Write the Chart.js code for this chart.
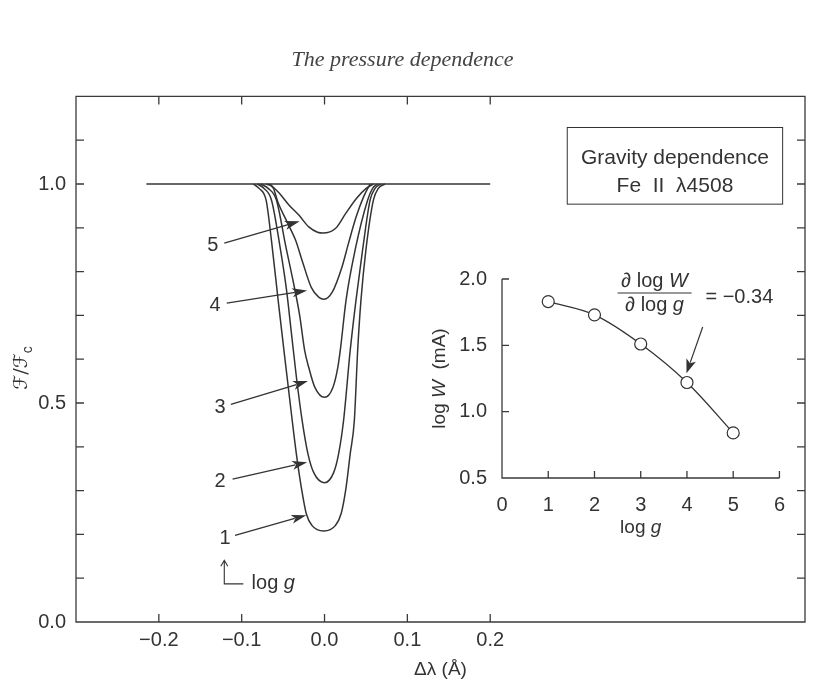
<!DOCTYPE html>
<html>
<head>
<meta charset="utf-8">
<script src="https://cdn.jsdelivr.net/npm/chart.js@4.4.0/dist/chart.umd.min.js"></script>
<style>
  html, body { margin: 0; padding: 0; background: #fff; }
  #wrap { position: relative; width: 816px; height: 682px; }
  #main { position: absolute; left: 0; top: 0; }
  #inset { position: absolute; left: 420px; top: 250px; }
</style>
</head>
<body>
<div id="wrap">
  <canvas id="main" width="816" height="682"></canvas>
  <canvas id="inset" width="380" height="300"></canvas>
</div>
<script>
// ---- data ----
const continuumX = [-0.215, 0.2];
const continuumY = [1.0, 1.0];

// line profiles for log g = 1 ... 5
const g1X = [-0.086, -0.079, -0.0705, -0.064, -0.056, -0.049, -0.039, -0.034, -0.028, -0.022, -0.015, -0.001, 0.013, 0.020, 0.026, 0.031, 0.036, 0.040, 0.044, 0.050, 0.059, 0.065, 0.073];
const g1Y = [1.0, 0.99, 0.963, 0.87, 0.735, 0.62, 0.46, 0.384, 0.307, 0.247, 0.22, 0.208, 0.22, 0.247, 0.307, 0.384, 0.46, 0.62, 0.735, 0.85, 0.963, 0.99, 1.0];

const g2X = [-0.081, -0.073, -0.064, -0.054, -0.046, -0.040, -0.034, -0.027, -0.020, -0.013, 0.0, 0.011, 0.017, 0.023, 0.031, 0.038, 0.046, 0.055, 0.061, 0.068];
const g2Y = [1.0, 0.99, 0.963, 0.86, 0.76, 0.66, 0.56, 0.46, 0.384, 0.341, 0.318, 0.341, 0.384, 0.46, 0.62, 0.735, 0.85, 0.963, 0.99, 1.0];

const g3X = [-0.077, -0.068, -0.058, -0.047, -0.037, -0.030, -0.024, -0.019, -0.0115, 0.0, 0.010, 0.016, 0.019, 0.026, 0.037, 0.052, 0.058, 0.064];
const g3Y = [1.0, 0.99, 0.963, 0.86, 0.77, 0.70, 0.62, 0.581, 0.535, 0.513, 0.535, 0.581, 0.62, 0.735, 0.85, 0.963, 0.99, 1.0];

const g4X = [-0.070, -0.062, -0.056, -0.0446, -0.035, -0.026, -0.016, -0.0067, -0.0006, 0.0093, 0.021, 0.029, 0.038, 0.047, 0.055];
const g4Y = [1.0, 0.991, 0.957, 0.911, 0.872, 0.819, 0.764, 0.741, 0.737, 0.753, 0.810, 0.865, 0.924, 0.970, 1.0];

const g5X = [-0.066, -0.0545, -0.043, -0.031, -0.019, -0.0085, -0.002, 0.0135, 0.026, 0.039, 0.051, 0.059];
const g5Y = [1.0, 0.979, 0.952, 0.929, 0.902, 0.890, 0.888, 0.899, 0.934, 0.968, 0.991, 1.0];

const curveLabels = ['1', '2', '3', '4', '5'];

const xTickValues = [-0.2, -0.1, 0.0, 0.1, 0.2];
const yTickLabels = [0.0, 0.5, 1.0];
const yTickMarks = [0.1, 0.2, 0.3, 0.4, 0.5, 0.6, 0.7, 0.8, 0.9, 1.0, 1.1];

// inset: equivalent width vs gravity
const insetLogg = [1, 2, 3, 4, 5];
const insetLogW = [1.83, 1.73, 1.51, 1.22, 0.84];
const insetXTicks = [0, 1, 2, 3, 4, 5, 6];
const insetYTicks = [0.5, 1.0, 1.5, 2.0];

// ---- helpers ----
const INK = '#333';
const SANS = '"Liberation Sans", Arial, sans-serif';
const FS = 20;

const pts = (xs, ys) => xs.map((x, i) => ({ x, y: ys[i] }));

function richText(ctx, parts, x, y, size, align) {
  const fonts = parts.map(p => (p[1] ? 'italic ' : '') + size + 'px ' + SANS);
  let w = 0;
  const ws = parts.map((p, i) => { ctx.font = fonts[i]; const m = ctx.measureText(p[0]).width; w += m; return m; });
  let cx = align === 'center' ? x - w / 2 : x;
  ctx.textAlign = 'left';
  ctx.textBaseline = 'middle';
  parts.forEach((p, i) => { ctx.font = fonts[i]; ctx.fillText(p[0], cx, y); cx += ws[i]; });
}

function arrow(ctx, x1, y1, x2, y2, head, half) {
  const a = Math.atan2(y2 - y1, x2 - x1);
  ctx.beginPath();
  ctx.moveTo(x1, y1);
  ctx.lineTo(x2 - head * 0.8 * Math.cos(a), y2 - head * 0.8 * Math.sin(a));
  ctx.stroke();
  ctx.beginPath();
  ctx.moveTo(x2, y2);
  ctx.lineTo(x2 - head * Math.cos(a) + half * Math.sin(a), y2 - head * Math.sin(a) - half * Math.cos(a));
  ctx.lineTo(x2 - head * 0.75 * Math.cos(a), y2 - head * 0.75 * Math.sin(a));
  ctx.lineTo(x2 - head * Math.cos(a) - half * Math.sin(a), y2 - head * Math.sin(a) + half * Math.cos(a));
  ctx.closePath();
  ctx.fill();
}

// frame + inward tick marks
const frameTicks = {
  id: 'frameTicks',
  afterDraw(chart, args, o) {
    const { ctx, chartArea: a, scales: { x, y } } = chart;
    ctx.save();
    ctx.strokeStyle = '#3a3a3a';
    ctx.lineWidth = 1.3;
    ctx.beginPath();
    if (o.box) {
      ctx.rect(a.left, a.top, a.right - a.left, a.bottom - a.top);
    } else {
      ctx.moveTo(a.left, a.top);
      ctx.lineTo(a.left, a.bottom);
      ctx.lineTo(a.right, a.bottom);
    }
    o.xMarks.forEach(v => {
      const p = x.getPixelForValue(v);
      ctx.moveTo(p, a.bottom); ctx.lineTo(p, a.bottom - o.len);
      if (o.box) { ctx.moveTo(p, a.top); ctx.lineTo(p, a.top + o.len); }
    });
    o.yMarks.forEach(v => {
      const p = y.getPixelForValue(v);
      ctx.moveTo(a.left, p); ctx.lineTo(a.left + o.len, p);
      if (o.box) { ctx.moveTo(a.right, p); ctx.lineTo(a.right - o.len, p); }
    });
    ctx.stroke();
    ctx.restore();
  }
};

// labels, arrows and the boxed caption of the main panel
const mainNotes = {
  id: 'mainNotes',
  afterDraw(chart) {
    const { ctx, scales: { x, y } } = chart;
    const X = v => x.getPixelForValue(v), Y = v => y.getPixelForValue(v);
    ctx.save();
    ctx.fillStyle = INK;
    ctx.strokeStyle = INK;
    ctx.lineWidth = 1.3;

    const labelAt = [[-0.120, 0.19], [-0.126, 0.32], [-0.126, 0.49], [-0.132, 0.723], [-0.135, 0.86]];
    const arrows = [
      [-0.108, 0.198, -0.022, 0.244],
      [-0.111, 0.326, -0.021, 0.365],
      [-0.113, 0.497, -0.020, 0.55],
      [-0.118, 0.728, -0.021, 0.757],
      [-0.121, 0.865, -0.030, 0.915]
    ];
    curveLabels.forEach((t, i) => {
      ctx.font = FS + 'px ' + SANS;
      ctx.textAlign = 'center';
      ctx.textBaseline = 'middle';
      ctx.fillText(t, X(labelAt[i][0]), Y(labelAt[i][1]));
      const r = arrows[i];
      arrow(ctx, X(r[0]), Y(r[1]), X(r[2]), Y(r[3]), 15, 4.5);
    });

    // "↑ log g" key
    const ax = X(-0.121), top = Y(0.141), corner = Y(0.087);
    ctx.lineWidth = 1.1;
    ctx.beginPath();
    ctx.moveTo(ax, top); ctx.lineTo(ax, corner); ctx.lineTo(X(-0.098), corner);
    ctx.moveTo(ax - 3.5, top + 6); ctx.lineTo(ax, top); ctx.lineTo(ax + 3.5, top + 6);
    ctx.stroke();
    richText(ctx, [['log ', false], ['g', true]], X(-0.088), corner, FS, 'left');

    // caption box
    ctx.lineWidth = 1;
    ctx.strokeRect(X(0.293), Y(1.129), X(0.553) - X(0.293), Y(0.954) - Y(1.129));
    ctx.font = '21px ' + SANS;
    ctx.textAlign = 'center';
    ctx.textBaseline = 'middle';
    ctx.fillText('Gravity dependence', X(0.423), Y(1.06));
    ctx.fillText('Fe  II  \u03bb4508', X(0.423), Y(0.995));

    // y axis title  F/Fc
    ctx.translate(22, 368);
    ctx.rotate(-Math.PI / 2);
    const big = '19px "DejaVu Serif", "DejaVu Sans", serif';
    const small = '14px ' + SANS;
    const main = '\u2131/\u2131';
    ctx.font = big;
    const w1 = ctx.measureText(main).width;
    ctx.font = small;
    const w2 = ctx.measureText('c').width;
    ctx.textAlign = 'left';
    ctx.textBaseline = 'middle';
    ctx.font = big;
    ctx.fillText(main, -(w1 + w2) / 2, 0);
    ctx.font = small;
    ctx.fillText('c', -(w1 + w2) / 2 + w1, 6);
    ctx.restore();
  }
};

// fraction, arrow and axis titles of the inset
const insetNotes = {
  id: 'insetNotes',
  afterDraw(chart) {
    const { ctx, chartArea: a, scales: { x, y } } = chart;
    const X = v => x.getPixelForValue(v), Y = v => y.getPixelForValue(v);
    ctx.save();
    ctx.fillStyle = INK;
    ctx.strokeStyle = INK;
    ctx.lineWidth = 1.1;
    richText(ctx, [['\u2202 log ', false], ['W', true]], X(3.30), Y(1.985), FS, 'center');
    ctx.beginPath();
    ctx.moveTo(X(2.50), Y(1.894)); ctx.lineTo(X(4.10), Y(1.894));
    ctx.stroke();
    richText(ctx, [['\u2202 log ', false], ['g', true]], X(3.30), Y(1.80), FS, 'center');
    ctx.font = FS + 'px ' + SANS;
    ctx.textAlign = 'left';
    ctx.textBaseline = 'middle';
    ctx.fillText('= \u22120.34', X(4.40), Y(1.864));
    ctx.lineWidth = 1.2;
    arrow(ctx, X(4.34), Y(1.638), X(3.99), Y(1.29), 14, 5);

    richText(ctx, [['log ', false], ['g', true]], (a.left + a.right) / 2, 278, 19, 'center');
    ctx.translate(20, (a.top + a.bottom) / 2);
    ctx.rotate(-Math.PI / 2);
    richText(ctx, [['log ', false], ['W', true], ['  (mA)', false]], 0, 0, 19, 'center');
    ctx.restore();
  }
};

const tickFont = { family: SANS, size: FS };
const fmt = v => (v < 0 ? '\u2212' : '') + Math.abs(v).toFixed(1);
const lineStyle = { borderColor: INK, borderWidth: 1.5, pointRadius: 0, cubicInterpolationMode: 'monotone', fill: false };

new Chart(document.getElementById('main'), {
  type: 'line',
  data: {
    datasets: [
      { label: 'continuum', data: pts(continuumX, continuumY), ...lineStyle },
      { label: 'log g = 1', data: pts(g1X, g1Y), ...lineStyle },
      { label: 'log g = 2', data: pts(g2X, g2Y), ...lineStyle },
      { label: 'log g = 3', data: pts(g3X, g3Y), ...lineStyle },
      { label: 'log g = 4', data: pts(g4X, g4Y), ...lineStyle },
      { label: 'log g = 5', data: pts(g5X, g5Y), ...lineStyle }
    ]
  },
  options: {
    responsive: false,
    animation: false,
    layout: { padding: { top: 0, right: 11, left: 0, bottom: 0 } },
    plugins: {
      legend: { display: false },
      tooltip: { enabled: false },
      title: {
        display: true,
        text: 'The pressure dependence',
        color: '#444',
        font: { family: '"Liberation Serif", "Times New Roman", serif', size: 22, style: 'italic', weight: 'normal', lineHeight: 1.2 },
        padding: { top: 47, bottom: 23 }
      },
      frameTicks: { box: true, len: 8, xMarks: xTickValues, yMarks: yTickMarks }
    },
    scales: {
      x: {
        type: 'linear',
        min: -0.3,
        max: 0.58,
        afterBuildTicks: s => { s.ticks = xTickValues.map(v => ({ value: v })); },
        afterFit: s => { s.height = 60; },
        grid: { display: false, drawTicks: false },
        border: { display: false },
        ticks: { color: INK, font: tickFont, padding: 6, maxRotation: 0, callback: fmt },
        title: { display: true, text: '\u0394\u03bb (\u00c5)', color: INK, font: { family: SANS, size: 19 }, padding: { top: 0, bottom: 1 } }
      },
      y: {
        min: 0,
        max: 1.2,
        afterBuildTicks: s => { s.ticks = yTickLabels.map(v => ({ value: v })); },
        afterFit: s => { s.width = 76; },
        grid: { display: false, drawTicks: false },
        border: { display: false },
        ticks: { color: INK, font: tickFont, padding: 10, callback: v => v.toFixed(1) }
      }
    }
  },
  plugins: [frameTicks, mainNotes]
});

new Chart(document.getElementById('inset'), {
  type: 'line',
  data: {
    datasets: [{
      label: 'log W',
      data: pts(insetLogg, insetLogW),
      borderColor: INK,
      borderWidth: 1.3,
      tension: 0.35,
      pointRadius: 6,
      pointBackgroundColor: '#fff',
      pointBorderColor: INK,
      pointBorderWidth: 1.2
    }]
  },
  options: {
    responsive: false,
    animation: false,
    layout: { padding: { top: 29, right: 20, left: 0, bottom: 0 } },
    plugins: {
      legend: { display: false },
      tooltip: { enabled: false },
      frameTicks: { box: false, len: 7, xMarks: insetXTicks.slice(1), yMarks: insetYTicks }
    },
    scales: {
      x: {
        type: 'linear',
        min: 0,
        max: 6,
        afterBuildTicks: s => { s.ticks = insetXTicks.map(v => ({ value: v })); },
        afterFit: s => { s.height = 72; },
        grid: { display: false, drawTicks: false },
        border: { display: false },
        ticks: { color: INK, font: tickFont, padding: 15, maxRotation: 0 }
      },
      y: {
        min: 0.5,
        max: 2.0,
        afterBuildTicks: s => { s.ticks = insetYTicks.map(v => ({ value: v })); },
        afterFit: s => { s.width = 82; },
        grid: { display: false, drawTicks: false },
        border: { display: false },
        ticks: { color: INK, font: tickFont, padding: 15, callback: v => v.toFixed(1) }
      }
    }
  },
  plugins: [frameTicks, insetNotes]
});
</script>
</body>
</html>
